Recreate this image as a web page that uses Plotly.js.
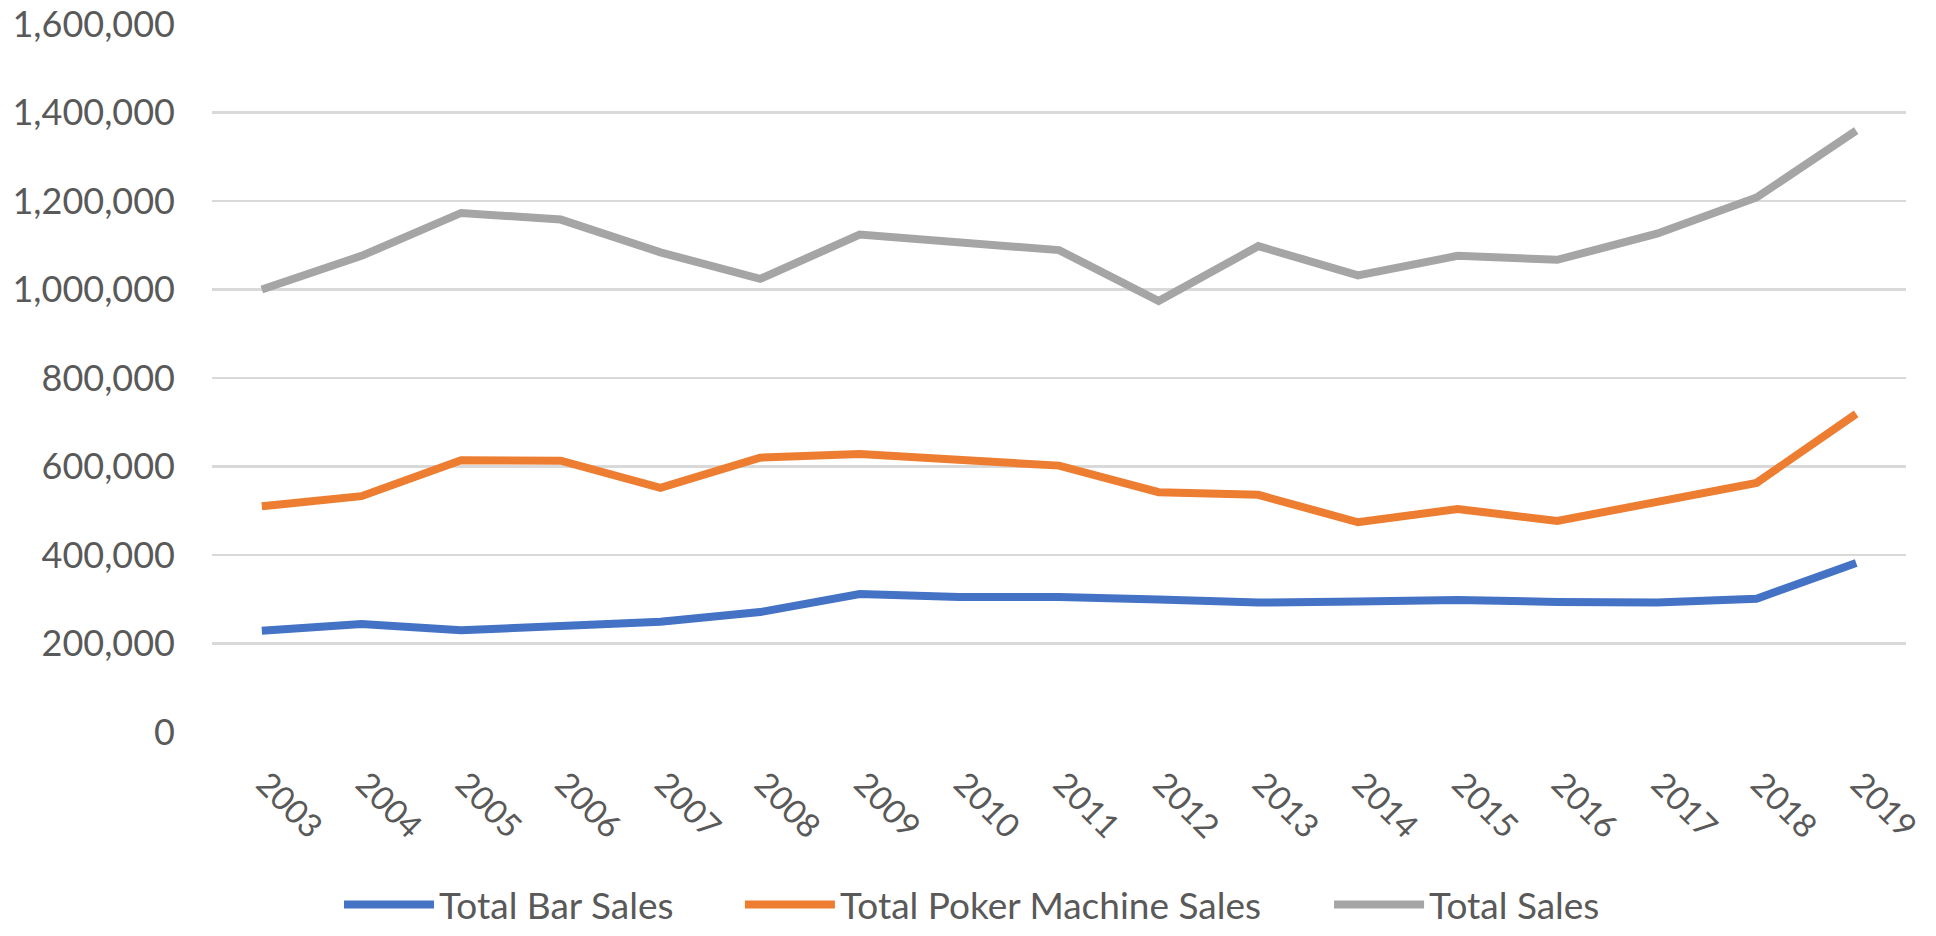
<!DOCTYPE html>
<html>
<head>
<meta charset="utf-8">
<script src="https://cdn.plot.ly/plotly-3.0.1.min.js"></script>
<style>
html,body{margin:0;padding:0;background:#fff;}
#chart{width:1936px;height:936px;}
</style>
</head>
<body>
<div id="chart"></div>
<script>
const years = ['2003','2004','2005','2006','2007','2008','2009','2010','2011','2012','2013','2014','2015','2016','2017','2018','2019'];
const barSales = [229000,244000,230000,239000,249000,271000,312000,305000,305000,299500,292500,295000,298500,294000,292500,301000,382000];
const pokerSales = [510000,533000,614000,613000,552000,620000,628000,615000,602000,542000,536000,474000,504000,477000,520000,563000,719000];
const totalSales = [1000000,1076000,1173000,1158000,1084000,1024000,1124000,1108000,1089000,974000,1098000,1032000,1076000,1067000,1126000,1208000,1359000];
const seriesNames = ['Total Bar Sales','Total Poker Machine Sales','Total Sales'];
const seriesColors = ['#4472C4','#ED7D31','#A5A5A5'];
const seriesValues = [barSales, pokerSales, totalSales];
const legendIds = ['legend','legend2','legend3'];

const traces = seriesValues.map((vals, i) => ({
  type: 'scatter',
  mode: 'lines',
  x: years,
  y: vals,
  name: seriesNames[i],
  legend: legendIds[i],
  line: {color: seriesColors[i], width: 8},
  hoverinfo: 'x+y'
}));

const fam = 'Lato, "Open Sans", sans-serif';
const textColor = '#595959';
const yFont = {family: fam, size: 36, color: textColor};
const xFont = {family: fam, size: 33, color: textColor};
const legFont = {family: fam, size: 37, color: textColor};

function legendAt(xFrac) {
  return {
    orientation: 'h',
    xref: 'container', yref: 'container',
    x: xFrac, xanchor: 'left',
    y: 0, yanchor: 'bottom',
    font: legFont,
    itemwidth: 90,
    bgcolor: 'rgba(0,0,0,0)',
    borderwidth: 0
  };
}

const layout = {
  width: 1936,
  height: 936,
  paper_bgcolor: '#ffffff',
  plot_bgcolor: '#ffffff',
  margin: {l: 212, r: 30, t: 24, b: 204},
  font: yFont,
  showlegend: true,
  legend: legendAt(0.1751),
  legend2: legendAt(0.3822),
  legend3: legendAt(0.6865),
  xaxis: {
    type: 'category',
    range: [-0.5, years.length - 0.5],
    showgrid: false,
    showline: false,
    zeroline: false,
    ticks: '',
    tickangle: 45,
    tickfont: xFont,
    ticklabelshift: 4,
    ticklabelstandoff: 25
  },
  yaxis: {
    range: [0, 1600000],
    dtick: 200000,
    tick0: 0,
    tickformat: ',d',
    showgrid: true,
    gridcolor: '#D9D9D9',
    gridwidth: 2.5,
    zeroline: false,
    showline: false,
    ticks: '',
    tickfont: yFont,
    ticklabelstandoff: 36
  }
};

Plotly.newPlot('chart', traces, layout, {displayModeBar: false, staticPlot: true});
</script>
</body>
</html>
